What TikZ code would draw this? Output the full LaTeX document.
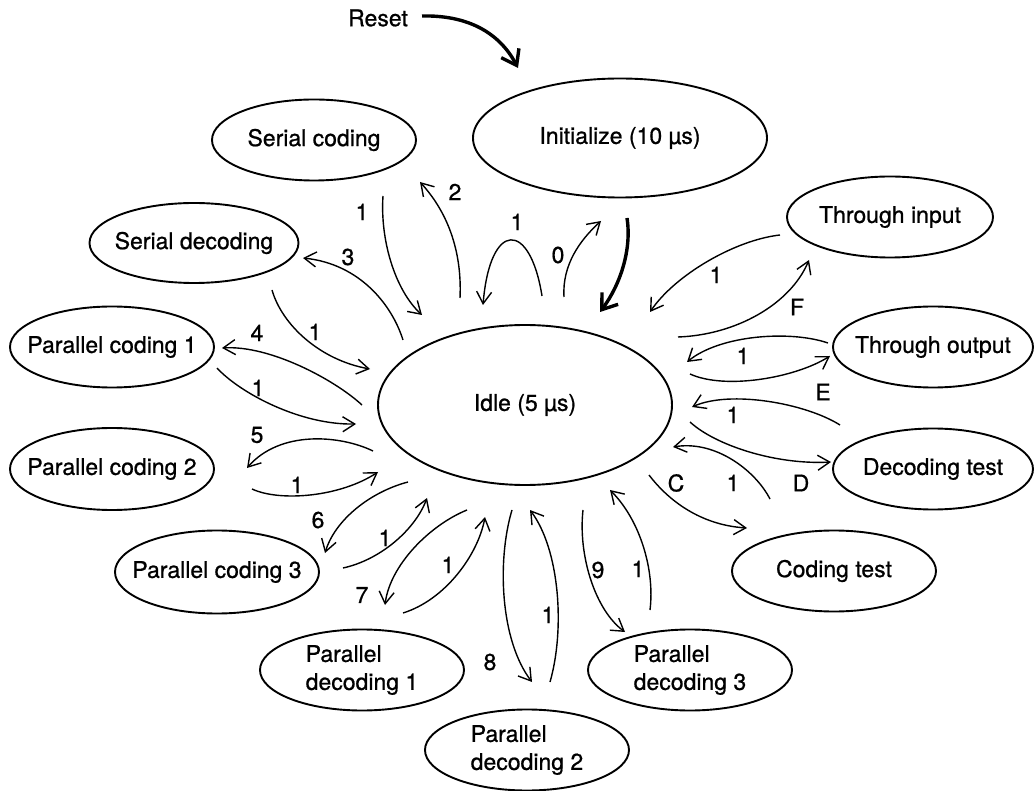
\documentclass[tikz,border=0pt]{standalone}
\usepackage{fontspec}
\setmainfont{TeX Gyre Heros}[RawFeature={embolden=0.8}]
\usetikzlibrary{shapes.geometric,arrows.meta,calc}
\begin{document}
\begin{tikzpicture}[x=1pt,y=-1pt,
  st/.style={ellipse,draw,line width=1.9pt,inner xsep=-25pt,inner ysep=0pt,
    minimum width=204pt,minimum height=81pt,font=\fontsize{23}{28}\selectfont},
  st2/.style={st,align=left},
  e/.style={line width=1.4pt,-{Straight Barb[length=12pt,width=15pt]}},
  tk/.style={line width=3.4pt,-{Straight Barb[length=14pt,width=20pt]}},
  lab/.style={font=\fontsize{23}{28}\selectfont,inner sep=0pt}]
\useasboundingbox (0,0) rectangle (1034,791);
% states
\node[st,minimum width=294pt,minimum height=119pt] (init) at (620,138) {Initialize (10 µs)};
\node[st,minimum width=294pt,minimum height=160pt] (idle) at (525,405) {Idle (5 µs)};
\node[st] (sc) at (314,140) {Serial coding};
\node[st,minimum width=209pt,minimum height=80pt] (sd) at (194,243) {Serial decoding};
\node[st] (pc1) at (112,347) {Parallel coding 1};
\node[st,minimum height=82pt] (pc2) at (112,469) {Parallel coding 2};
\node[st,minimum height=83pt] (pc3) at (217,572) {Parallel coding 3};
\node[st2] (pd1) at (362,670) {Parallel\\decoding 1};
\node[st2] (pd2) at (527,750) {Parallel\\decoding 2};
\node[st2] (pd3) at (690,670) {Parallel\\decoding 3};
\node[st] (ct) at (834,571) {Coding test};
\node[st,minimum width=200pt] (dt) at (933,469) {Decoding test};
\node[st,minimum width=200pt] (tout) at (933,347) {Through output};
\node[st,minimum width=206pt] (tin) at (890,217) {Through input};
\node[lab] (reset) at (378,18) {Reset};
% thick arrows
\draw[tk] ($(reset.east)+(14,-2)$) .. controls +(45,-1) and +(-19,-36) .. ($(init)+(-102,-70)$);
\draw[tk] ($(init)+(7,80)$) .. controls +(5,32) and +(20,-27) .. ($(idle)+(75,-93)$);
% top
\draw[e] ($(sc)+(69,56)$) .. controls +(-3,44) and +(-27,-25) .. ($(idle)+(-103,-90)$);
\draw[e] ($(idle)+(-65,-107)$) .. controls +(2,-43) and +(30,33) .. ($(sc)+(106,42)$);
\draw[e] ($(idle)+(17,-109)$) .. controls +(-12,-76) and +(7,-85) .. ($(idle)+(-42,-100)$);
\draw[e] ($(idle)+(39,-108)$) .. controls +(-2,-32) and +(-21,19) .. ($(init)+(-19,83)$);
% left
\draw[e] ($(idle)+(-122,-65)$) .. controls +(-11,-35) and +(57,6) .. ($(sd)+(109,15)$);
\draw[e] ($(sd)+(78,47)$) .. controls +(10,35) and +(-50,-9) .. ($(idle)+(-155,-36)$);
\draw[e] ($(idle)+(-163,0)$) .. controls +(-27,-25) and +(48,-3) .. ($(pc1)+(110,1)$);
\draw[e] ($(pc1)+(105,21)$) .. controls +(23,25) and +(-56,1) .. ($(idle)+(-169,19)$);
\draw[e] ($(idle)+(-152,46)$) .. controls +(-33,-16) and +(33,-38) .. ($(pc2)+(135,-1)$);
\draw[e] ($(pc2)+(140,20)$) .. controls +(28,13) and +(-38,25) .. ($(idle)+(-147,67)$);
\draw[e] ($(idle)+(-117,77)$) .. controls +(-38,10) and +(10,-33) .. ($(pc3)+(108,-19)$);
\draw[e] ($(pc3)+(126,-4)$) .. controls +(37,-8) and +(-12,32) .. ($(idle)+(-98,93)$);
% bottom
\draw[e] ($(idle)+(-58,105)$) .. controls +(-37,15) and +(5,-40) .. ($(pd1)+(23,-65)$);
\draw[e] ($(pd1)+(41,-57)$) .. controls +(42,-13) and +(-7,38) .. ($(idle)+(-40,112)$);
\draw[e] ($(idle)+(-13,105)$) .. controls +(-15,50) and +(-32,-42) .. ($(pd2)+(5,-68)$);
\draw[e] ($(pd2)+(23,-68)$) .. controls +(15,-52) and +(30,40) .. ($(idle)+(5,105)$);
\draw[e] ($(idle)+(58,105)$) .. controls +(-5,45) and +(-30,-22) .. ($(pd3)+(-65,-38)$);
\draw[e] ($(pd3)+(-40,-60)$) .. controls +(5,-40) and +(30,30) .. ($(idle)+(85,85)$);
% right
\draw[e] ($(idle)+(124,70)$) .. controls +(19,25) and +(-47,-3) .. ($(ct)+(-87,-43)$);
\draw[e] ($(ct)+(-64,-72)$) .. controls +(-15,-29) and +(42,-7) .. ($(idle)+(148,42)$);
\draw[e] ($(idle)+(165,17)$) .. controls +(25,23) and +(-56,3) .. ($(dt)+(-102,-7)$);
\draw[e] ($(dt)+(-93,-44)$) .. controls +(-35,-22) and +(38,-17) .. ($(idle)+(167,2)$);
\draw[e] ($(idle)+(165,-31)$) .. controls +(35,16) and +(-35,22) .. ($(tout)+(-103,9)$);
\draw[e] ($(tout)+(-105,-4)$) .. controls +(-38,-13) and +(33,-27) .. ($(idle)+(162,-43)$);
\draw[e] ($(idle)+(153,-68)$) .. controls +(57,-2) and +(-19,45) .. ($(tin)+(-81,43)$);
\draw[e] ($(tin)+(-110,18)$) .. controls +(-45,5) and +(25,-37) .. ($(idle)+(125,-93)$);
% labels
\node[lab] (l01) at (362,212) {1};
\node[lab] (l02) at (455,192) {2};
\node[lab] (l03) at (517,222) {1};
\node[lab] (l04) at (558,255) {0};
\node[lab] (l05) at (348,257) {3};
\node[lab] (l06) at (315,332) {1};
\node[lab] (l07) at (257,333) {4};
\node[lab] (l08) at (258,388) {1};
\node[lab] (l09) at (257,435) {5};
\node[lab] (l10) at (297,485) {1};
\node[lab] (l11) at (318,520) {6};
\node[lab] (l12) at (385,538) {1};
\node[lab] (l13) at (362,595) {7};
\node[lab] (l14) at (448,565) {1};
\node[lab] (l15) at (490,662) {8};
\node[lab] (l16) at (548,615) {1};
\node[lab] (l17) at (598,570) {9};
\node[lab] (l18) at (638,569) {1};
\node[lab] (l19) at (676,483) {C};
\node[lab] (l20) at (733,483) {1};
\node[lab] (l21) at (801,483) {D};
\node[lab] (l22) at (733,415) {1};
\node[lab] (l23) at (823,392) {E};
\node[lab] (l24) at (743,356) {1};
\node[lab] (l25) at (797,307) {F};
\node[lab] (l26) at (716,275) {1};
\end{tikzpicture}
\end{document}
